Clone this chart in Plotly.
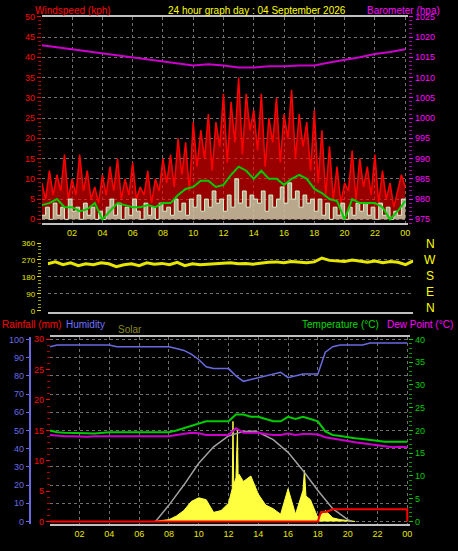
import plotly.graph_objects as go

W, H = 458, 551

# ---- data ----
t15 = [i * 0.25 for i in range(97)]
t30 = [i * 0.5 for i in range(49)]
t60 = list(range(25))

gust = [9, 5, 12, 6, 11, 7, 16, 5, 10,
        6, 16, 7, 12, 5, 8, 4, 11,
        6, 13, 7, 15, 5, 10, 6, 14,
        5, 8, 6, 12, 4, 10, 7, 15,
        9, 16, 8, 20, 11, 19, 7, 24,
        13, 22, 15, 26, 12, 24, 18, 31,
        14, 29, 19, 35, 16, 31, 22, 27,
        17, 31, 13, 25, 19, 30, 14, 26,
        20, 32, 15, 26, 18, 24, 12, 27,
        9, 22, 6, 18, 5, 13, 4, 9,
        7, 17, 5, 15, 8, 13, 6, 16,
        4, 12, 5, 9, 3, 7, 11, 8]
wind = [1, 3, 0, 4, 1, 3, 0, 5, 2,
        3, 0, 4, 1, 3, 0, 2, 0,
        3, 5, 1, 4, 0, 3, 1, 5,
        2, 0, 4, 1, 3, 0, 4, 2,
        3, 1, 5, 2, 4, 1, 5, 3,
        6, 2, 5, 3, 7, 4, 5, 2,
        6, 3, 10, 4, 7, 3, 6, 5,
        4, 7, 2, 6, 3, 5, 8, 4,
        9, 5, 7, 3, 6, 4, 5, 2,
        5, 1, 4, 0, 3, 1, 4, 0,
        3, 1, 4, 2, 4, 1, 3, 0,
        4, 1, 3, 0, 2, 1, 5, 3]
avg_wind = [3.5, 4, 5, 3, 3, 2, 2.5, 4, 0, 2, 4, 3.5, 3, 3, 3.5, 3, 4, 4, 6, 7.5,
            8, 9.5, 9.5, 8, 8.5, 11, 13, 12, 10, 12, 10, 10, 8.5, 10, 11, 10, 7.5,
            6.5, 5, 4.5, 0, 5, 4, 4, 4, 3, 0, 2, 4.5]
baro = [1018, 1017.5, 1017, 1016.5, 1016, 1015.5, 1015, 1014.5, 1014, 1013.5, 1013,
        1013.3, 1013, 1012.5, 1012.5, 1012.8, 1012.8, 1013, 1013, 1013.7, 1014.3,
        1015, 1015.8, 1016.3, 1017]
wdir = [250, 260, 245, 255, 240, 250, 245, 255, 250, 235, 245, 250, 240, 255, 248, 252,
        245, 258, 240, 250, 245, 248, 250, 252, 255, 250, 252, 248, 255, 258, 260, 255,
        262, 258, 255, 260, 280, 268, 265, 262, 270, 262, 258, 265, 255, 262, 258, 245, 265]
humidity = [96, 97, 97, 97, 97, 97, 97, 97, 97,
            96, 96, 96, 96, 96, 96, 96, 96,
            95, 94, 92, 89, 85, 84, 84, 84, 80, 77, 78, 79, 80, 81, 82, 79, 80, 81, 81,
            81, 93, 96, 97, 97, 97, 97, 98, 98, 98, 98, 98, 98]
temp = [20, 19.6, 19.5, 19.5, 19.5, 19.4, 19.3, 19.5, 19.6, 19.6, 19.6, 19.6, 19.6, 19.6,
        19.6, 19.6, 19.6, 20, 20.5, 21, 21.5, 22, 22, 22, 22, 23.5, 23.5, 23, 23, 22.5,
        22, 22, 23, 22.5, 23, 22.5, 22, 19.8, 19, 18.8, 18.5, 18.3, 18.1, 17.9, 17.7,
        17.5, 17.5, 17.5, 17.5]
dewpt = [19, 18.8, 18.7, 18.7, 18.6, 18.6, 18.7, 18.7, 18.7, 18.7, 18.7, 18.7, 18.7,
         18.7, 18.7, 18.7, 18.7, 19, 19.3, 19.5, 19.4, 19, 19, 19, 19, 20.5, 19.5, 19.5,
         19.5, 19.2, 19, 19, 19.3, 19, 19.2, 19.2, 19.1, 18.5, 18.2, 17.9, 17.6, 17.4,
         17.2, 17, 16.7, 16.5, 16.3, 16.4, 16.3]
rain_t = [0, 18.0, 18.2, 18.6, 19, 20, 24, 24.01]
rain = [0, 0, 1.5, 1.6, 2, 2, 2, 0]
solar_t = [7, 7.5, 8, 8.5, 9, 9.5, 10, 10.5, 11, 11.5, 12, 12.25, 12.3, 12.35, 12.5,
           12.6, 12.65, 12.7, 13, 13.5, 14, 14.5, 15, 15.5, 16, 16.5, 17, 17.1, 17.2,
           17.5, 18, 18.5, 19, 19.5, 20, 20.5]
solar = [0, 0.5, 1, 3, 6, 11, 13, 12, 5, 6, 10, 18, 55, 20, 24, 50, 22, 26, 22, 25,
         15, 9, 7, 4, 18, 4, 17, 28, 14, 12, 2, 6, 2, 1, 0.5, 0]
smax_t = [7.1, 8, 9, 10, 11, 12, 13, 13.7, 14, 15, 16, 17, 18, 19, 20, 20.3]
smax = [0, 9, 20, 32, 41, 47, 49.5, 49.6, 49, 45, 38, 28, 17, 7, 1, 0]
xtick_vals = list(range(2, 25, 2))
xtick_text = ["02", "04", "06", "08", "10", "12", "14", "16", "18", "20", "22", "00"]


def px(x):
    return x / W


def py(y):
    return 1 - y / H


fig = go.Figure()
# top panel
fig.add_trace(go.Scatter(x=t15, y=gust, mode="lines", line=dict(color="#ff0000", width=1.5),
                         fill="tozeroy", fillcolor="rgba(255,0,0,0.6)", xaxis="x", yaxis="y"))
fig.add_trace(go.Scatter(x=t15, y=wind, mode="lines", line=dict(color="#d0f5d0", width=1, shape="hv"),
                         fill="tozeroy", fillcolor="rgba(200,240,200,0.7)", xaxis="x", yaxis="y"))
fig.add_trace(go.Scatter(x=t30, y=avg_wind, mode="lines", line=dict(color="#00cc00", width=2),
                         xaxis="x", yaxis="y"))
fig.add_trace(go.Scatter(x=t60, y=baro, mode="lines", line=dict(color="#cc00cc", width=2),
                         xaxis="x", yaxis="y2"))
# middle panel
fig.add_trace(go.Scatter(x=t30, y=wdir, mode="lines", line=dict(color="#e6e600", width=3),
                         xaxis="x2", yaxis="y3"))
# bottom panel
fig.add_trace(go.Scatter(x=solar_t, y=solar, mode="lines", line=dict(color="#ffff40", width=1),
                         fill="tozeroy", fillcolor="#ffff40", xaxis="x3", yaxis="y4"))
fig.add_trace(go.Scatter(x=smax_t, y=smax, mode="lines", line=dict(color="#a0a0a0", width=1.5),
                         xaxis="x3", yaxis="y4"))
fig.add_trace(go.Scatter(x=t30, y=humidity, mode="lines", line=dict(color="#6a6ae0", width=1.5),
                         xaxis="x3", yaxis="y4"))
fig.add_trace(go.Scatter(x=t30, y=temp, mode="lines", line=dict(color="#00cc00", width=2),
                         xaxis="x3", yaxis="y6"))
fig.add_trace(go.Scatter(x=t30, y=dewpt, mode="lines", line=dict(color="#cc00cc", width=2),
                         xaxis="x3", yaxis="y6"))
fig.add_trace(go.Scatter(x=rain_t, y=rain, mode="lines", line=dict(color="#ff0000", width=2),
                         xaxis="x3", yaxis="y5"))

font = dict(family="Liberation Sans", size=9)
grid = dict(showgrid=True, gridcolor="#707070", griddash="dot", gridwidth=1)
xcommon = dict(tickvals=xtick_vals, ticktext=xtick_text, tickfont=dict(color="#e6e600", size=9),
               showline=True, linecolor="#c0c0c0", linewidth=2, mirror=True, zeroline=False,
               ticks="", **grid)

fig.update_layout(
    width=W, height=H, margin=dict(l=0, r=0, t=0, b=0),
    paper_bgcolor="black", plot_bgcolor="black", showlegend=False, font=font,
    xaxis=dict(domain=[px(42), px(410)], range=[0, 24.2], anchor="y", **xcommon),
    yaxis=dict(domain=[py(222), py(12)], range=[-1, 50], dtick=5,
               tickfont=dict(color="#ff0000"), ticks="outside", tickcolor="#ff0000", ticklen=4,
               minor=dict(ticks="outside", dtick=1, tickcolor="#aa0000", ticklen=3),
               zeroline=False, **grid),
    yaxis2=dict(overlaying="y", side="right", range=[974, 1025], dtick=5,
                tickfont=dict(color="#ff00ff"), ticks="outside", tickcolor="#ff00ff", ticklen=4,
                minor=dict(ticks="outside", dtick=1, tickcolor="#aa00aa", ticklen=3),
                showgrid=False, zeroline=False),
    xaxis2=dict(domain=[px(48), px(415)], range=[0, 24], anchor="y3", showticklabels=False,
                showline=True, linecolor="#c0c0c0", linewidth=2, showgrid=False, zeroline=False),
    yaxis3=dict(domain=[py(312), py(241)], range=[-5, 365], tickvals=[0, 90, 180, 270, 360],
                tickfont=dict(color="#e6e600", size=8), ticks="outside", tickcolor="#e6e600",
                ticklen=4, minor=dict(ticks="outside", dtick=18, tickcolor="#a0a000", ticklen=3),
                zeroline=False, **grid),
    xaxis3=dict(domain=[px(50), px(412)], range=[0, 24.2], anchor="y4", **xcommon),
    yaxis4=dict(domain=[py(528), py(338)], range=[-1.6, 101.1], dtick=10,
                tickfont=dict(color="#6a6ae0"), ticks="outside", tickcolor="#6a6ae0", ticklen=3,
                anchor="free", position=px(30), showline=True, linecolor="#6a6ae0", linewidth=2,
                zeroline=False, **grid),
    yaxis5=dict(overlaying="y4", range=[-0.49, 30.3], dtick=5, anchor="free", position=px(50),
                tickfont=dict(color="#ff0000"), ticks="outside", tickcolor="#ff0000", ticklen=4,
                minor=dict(ticks="outside", dtick=1, tickcolor="#aa0000", ticklen=3),
                showgrid=False, zeroline=False),
    yaxis6=dict(overlaying="y4", side="right", range=[-0.65, 40.43], dtick=5,
                tickfont=dict(color="#00cc00"), ticks="outside", tickcolor="#00cc00", ticklen=4,
                minor=dict(ticks="outside", dtick=1, tickcolor="#009900", ticklen=3),
                showgrid=False, zeroline=False),
)

fs = "Liberation Sans"
ann = [
    ("Windspeed (kph)", 33, 6, "#ff0000", "left", 10),
    ("24 hour graph day : 04 September 2026", 258, 6, "#ffff00", "center", 10),
    ("Barometer (hpa)", 444, 6, "#ff00ff", "right", 10),
    ("N", 432, 243, "#ffff00", "center", 12),
    ("W", 432, 259, "#ffff00", "center", 12),
    ("S", 432, 276, "#ffff00", "center", 12),
    ("E", 432, 292, "#ffff00", "center", 12),
    ("N", 432, 308, "#ffff00", "center", 12),
    ("Rainfall (mm)", 0, 325, "#ff0000", "left", 10),
    ("Humidity", 64, 325, "#7070ff", "left", 10),
    ("Solar", 117, 330, "#8a8a20", "left", 10),
    ("Temperature (°C)", 383, 325, "#00dd00", "right", 10),
    ("Dew Point (°C)", 457, 325, "#ff00ff", "right", 10),
]
for txt, x, y, c, al, s in ann:
    fig.add_annotation(text=txt, x=px(x), y=py(y), xref="paper", yref="paper", xanchor=al,
                       yanchor="middle", showarrow=False, font=dict(family=fs, size=s, color=c))

fig.write_html("out.html", config={"displayModeBar": False},
               post_script="document.body.style.margin='0px';")
